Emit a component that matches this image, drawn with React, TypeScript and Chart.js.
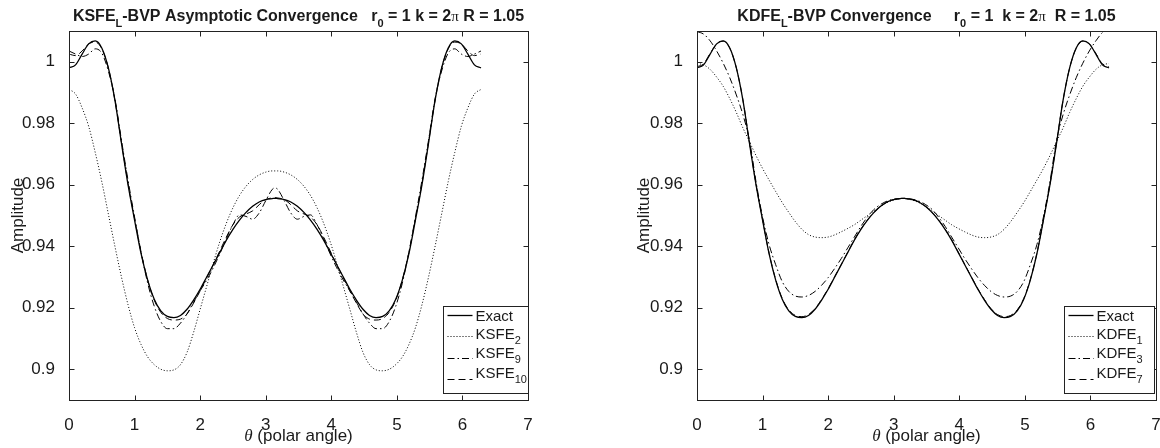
import React, { useEffect, useRef } from "react";
import { Chart, registerables } from "chart.js";
Chart.register(...registerables);

// ---------------- DATA ----------------
const THETA = [
  0, 0.1, 0.2, 0.3, 0.4, 0.5, 0.6, 0.7, 0.8, 0.9, 1.0, 1.1, 1.2, 1.3, 1.4, 1.5,
  1.6, 1.7, 1.8, 1.9, 2.0, 2.1, 2.2, 2.3, 2.4, 2.5, 2.6, 2.7, 2.8, 2.9, 3.0, 3.1,
  3.1416,
  3.1832, 3.2832, 3.3832, 3.4832, 3.5832, 3.6832, 3.7832, 3.8832, 3.9832, 4.0832,
  4.1832, 4.2832, 4.3832, 4.4832, 4.5832, 4.6832, 4.7832, 4.8832, 4.9832, 5.0832,
  5.1832, 5.2832, 5.3832, 5.4832, 5.5832, 5.6832, 5.7832, 5.8832, 5.9832, 6.0832,
  6.1832, 6.2832,
];

const X_TICKS = [0, 1, 2, 3, 4, 5, 6, 7];
const Y_TICKS = [0.9, 0.92, 0.94, 0.96, 0.98, 1];
const X_MIN = 0;
const X_MAX = 7;
const Y_MIN = 0.89;
const Y_MAX = 1.01;

const EXACT = [
  0.998, 0.999, 1.0025, 1.0058, 1.0068, 1.0045, 0.998, 0.9875, 0.9735, 0.96, 0.9485, 0.9375, 0.929, 0.9228, 0.919, 0.9172,
  0.9168, 0.9175, 0.9195, 0.9225, 0.926, 0.93, 0.934, 0.938, 0.942, 0.9455, 0.9485, 0.951, 0.953, 0.9544, 0.9552, 0.9555,
  0.9556,
  0.9555, 0.9552, 0.9544, 0.953, 0.951, 0.9485, 0.9455, 0.942, 0.938, 0.934, 0.93, 0.926, 0.9225, 0.9195, 0.9175, 0.9168,
  0.9172, 0.919, 0.9228, 0.929, 0.9375, 0.9485, 0.96, 0.9735, 0.9875, 0.998, 1.0045, 1.0068, 1.0058, 1.0025, 0.999, 0.998,
];

const KSFE_2 = [
  0.991, 0.9895, 0.985, 0.979, 0.9705, 0.961, 0.9505, 0.94, 0.93, 0.921, 0.9135, 0.908, 0.904, 0.9015, 0.9, 0.8995,
  0.8998, 0.9015, 0.9055, 0.912, 0.9195, 0.927, 0.9345, 0.9415, 0.9475, 0.9525, 0.9565, 0.9595, 0.9617, 0.9632, 0.9641, 0.9645,
  0.9645,
  0.9645, 0.9641, 0.9632, 0.9617, 0.9595, 0.9565, 0.9525, 0.9475, 0.9415, 0.9345, 0.927, 0.9195, 0.912, 0.9055, 0.9015, 0.8998,
  0.8995, 0.9, 0.9015, 0.904, 0.908, 0.9135, 0.921, 0.93, 0.94, 0.9505, 0.961, 0.9705, 0.979, 0.985, 0.9895, 0.991,
];

const KSFE_9 = [
  1.0035, 1.0025, 1.0017, 1.0025, 1.0042, 1.0028, 0.997, 0.988, 0.9745, 0.9615, 0.9495, 0.938, 0.928, 0.9205, 0.9155, 0.9132,
  0.9132, 0.915, 0.918, 0.9218, 0.9255, 0.929, 0.933, 0.9375, 0.9425, 0.947, 0.9502, 0.9497, 0.9488, 0.9508, 0.9548, 0.9585,
  0.959,
  0.9585, 0.9548, 0.9508, 0.9488, 0.9497, 0.9502, 0.947, 0.9425, 0.9375, 0.933, 0.929, 0.9255, 0.9218, 0.918, 0.915, 0.9132,
  0.9132, 0.9155, 0.9205, 0.928, 0.938, 0.9495, 0.9615, 0.9745, 0.988, 0.997, 1.0028, 1.0042, 1.0025, 1.0017, 1.0025, 1.0035,
];

const KSFE_10 = [
  1.0025, 1.002, 1.0035, 1.0058, 1.0064, 1.0042, 0.998, 0.9875, 0.9738, 0.9605, 0.949, 0.938, 0.929, 0.9225, 0.9185, 0.9165,
  0.916, 0.9163, 0.918, 0.9215, 0.9255, 0.9298, 0.934, 0.9385, 0.943, 0.947, 0.9495, 0.9505, 0.9515, 0.9535, 0.9552, 0.9557,
  0.9558,
  0.9557, 0.9552, 0.9535, 0.9515, 0.9505, 0.9495, 0.947, 0.943, 0.9385, 0.934, 0.9298, 0.9255, 0.9215, 0.918, 0.9163, 0.916,
  0.9165, 0.9185, 0.9225, 0.929, 0.938, 0.949, 0.9605, 0.9738, 0.9875, 0.998, 1.0042, 1.0064, 1.0058, 1.0035, 1.002, 1.0025,
];

const KDFE_1 = [
  0.9994, 0.999, 0.9975, 0.995, 0.992, 0.988, 0.9835, 0.9785, 0.974, 0.9695, 0.9653, 0.9615, 0.9578, 0.9542, 0.951, 0.948,
  0.9455, 0.9438, 0.943, 0.9428, 0.943, 0.9437, 0.9447, 0.9458, 0.947, 0.9485, 0.95, 0.9515, 0.953, 0.9542, 0.955, 0.9555,
  0.9556,
  0.9555, 0.955, 0.9542, 0.953, 0.9515, 0.95, 0.9485, 0.947, 0.9458, 0.9447, 0.9437, 0.943, 0.9428, 0.943, 0.9438, 0.9455,
  0.948, 0.951, 0.9542, 0.9578, 0.9615, 0.9653, 0.9695, 0.974, 0.9785, 0.9835, 0.988, 0.992, 0.995, 0.9975, 0.999, 0.9994,
];

const KDFE_3 = [
  1.0098, 1.009, 1.0068, 1.0035, 0.9995, 0.9948, 0.9892, 0.9828, 0.9745, 0.961, 0.9495, 0.9405, 0.934, 0.9285, 0.9253, 0.9238,
  0.9235, 0.924, 0.9253, 0.9273, 0.9298, 0.9328, 0.936, 0.9395, 0.943, 0.9465, 0.9495, 0.952, 0.9536, 0.9547, 0.9553, 0.9555,
  0.9556,
  0.9555, 0.9553, 0.9547, 0.9536, 0.952, 0.9495, 0.9465, 0.943, 0.9395, 0.936, 0.9328, 0.9298, 0.9273, 0.9253, 0.924, 0.9235,
  0.9238, 0.9253, 0.9285, 0.934, 0.9405, 0.9495, 0.961, 0.9745, 0.9828, 0.9892, 0.9948, 0.9995, 1.0035, 1.0068, 1.0095, 1.0108,
];

const KDFE_7 = [
  0.9984, 0.9993, 1.0027, 1.0058, 1.0067, 1.0044, 0.998, 0.9876, 0.9737, 0.9602, 0.9487, 0.9377, 0.9292, 0.923, 0.9193, 0.9175,
  0.9171, 0.9178, 0.9197, 0.9227, 0.9262, 0.9301, 0.9341, 0.9381, 0.9421, 0.9456, 0.9486, 0.951, 0.953, 0.9544, 0.9552, 0.9555,
  0.9556,
  0.9555, 0.9552, 0.9544, 0.953, 0.951, 0.9486, 0.9456, 0.9421, 0.9381, 0.9341, 0.9301, 0.9262, 0.9227, 0.9197, 0.9178, 0.9171,
  0.9175, 0.9193, 0.923, 0.9292, 0.9377, 0.9487, 0.9602, 0.9737, 0.9876, 0.998, 1.0044, 1.0067, 1.0058, 1.0027, 0.9993, 0.9984,
];

// ---------------- STYLE ----------------
const SANS = "'Liberation Sans', Arial, Helvetica, sans-serif";
const TEXT = "#1a1a1a";
const STYLES: Record<string, { dash: number[]; width: number }> = {
  solid: { dash: [], width: 1.3 },
  dotted: { dash: [1, 2], width: 1 },
  dashdot: { dash: [7, 3, 1.5, 3], width: 1 },
  dashed: { dash: [7, 4], width: 1 },
};

type Seg = { t: string; font: string; dy?: number };
type Series = { name: string; sub: string; data: number[]; style: string };
type Panel = {
  title: Seg[];
  series: Series[];
  yAxisWidth: number;
  padRight: number;
  yTitleX: number;
  legendW: number;
  legendRightOff: number;
};

const B = `bold 16px ${SANS}`;
const BS = `bold 11px ${SANS}`;
const PI = "15px 'Liberation Serif', serif";

const LEFT: Panel = {
  title: [
    { t: "KSFE", font: B },
    { t: "L", font: BS, dy: 6 },
    { t: "-BVP Asymptotic Convergence   r", font: B },
    { t: "0", font: BS, dy: 6 },
    { t: " = 1 k = 2", font: B },
    { t: "\u03c0", font: PI },
    { t: " R = 1.05", font: B },
  ],
  series: [
    { name: "Exact", sub: "", data: EXACT, style: "solid" },
    { name: "KSFE", sub: "2", data: KSFE_2, style: "dotted" },
    { name: "KSFE", sub: "9", data: KSFE_9, style: "dashdot" },
    { name: "KSFE", sub: "10", data: KSFE_10, style: "dashed" },
  ],
  yAxisWidth: 69,
  padRight: 52,
  yTitleX: 18,
  legendW: 85,
  legendRightOff: 0,
};

const RIGHT: Panel = {
  title: [
    { t: "KDFE", font: B },
    { t: "L", font: BS, dy: 6 },
    { t: "-BVP Convergence     r", font: B },
    { t: "0", font: BS, dy: 6 },
    { t: " = 1  k = 2", font: B },
    { t: "\u03c0", font: PI },
    { t: "  R = 1.05", font: B },
  ],
  series: [
    { name: "Exact", sub: "", data: EXACT, style: "solid" },
    { name: "KDFE", sub: "1", data: KDFE_1, style: "dotted" },
    { name: "KDFE", sub: "3", data: KDFE_3, style: "dashdot" },
    { name: "KDFE", sub: "7", data: KDFE_7, style: "dashed" },
  ],
  yAxisWidth: 117,
  padRight: 4,
  yTitleX: 64,
  legendW: 90,
  legendRightOff: 2,
};

function drawSegs(ctx: CanvasRenderingContext2D, segs: Seg[], x: number, baseline: number, center: boolean) {
  let total = 0;
  for (const s of segs) {
    ctx.font = s.font;
    total += ctx.measureText(s.t).width;
  }
  let cx = center ? x - total / 2 : x;
  ctx.textAlign = "left";
  ctx.textBaseline = "alphabetic";
  for (const s of segs) {
    ctx.font = s.font;
    ctx.fillText(s.t, cx, baseline + (s.dy || 0));
    cx += ctx.measureText(s.t).width;
  }
}

function makePlugin(panel: Panel) {
  return {
    id: "matlabDecor",
    afterDraw(chart: any) {
      const ctx: CanvasRenderingContext2D = chart.ctx;
      const a = chart.chartArea;
      const xs = chart.scales.x;
      const ys = chart.scales.y;
      const L = Math.round(a.left) + 0.5;
      const R = Math.round(a.right) + 0.5;
      const T = Math.round(a.top) + 0.5;
      const Bt = Math.round(a.bottom) + 0.5;
      ctx.save();
      // box
      ctx.strokeStyle = "#222";
      ctx.lineWidth = 1;
      ctx.setLineDash([]);
      ctx.strokeRect(L, T, R - L, Bt - T);
      // inward ticks
      const TL = 5;
      ctx.beginPath();
      for (const v of X_TICKS) {
        const px = Math.round(xs.getPixelForValue(v)) + 0.5;
        ctx.moveTo(px, Bt);
        ctx.lineTo(px, Bt - TL);
        ctx.moveTo(px, T);
        ctx.lineTo(px, T + TL);
      }
      for (const v of Y_TICKS) {
        const py = Math.round(ys.getPixelForValue(v)) + 0.5;
        ctx.moveTo(L, py);
        ctx.lineTo(L + TL, py);
        ctx.moveTo(R, py);
        ctx.lineTo(R - TL, py);
      }
      ctx.stroke();

      ctx.fillStyle = TEXT;
      // title
      drawSegs(ctx, panel.title, (a.left + a.right) / 2, 20.5, true);
      // x title
      drawSegs(
        ctx,
        [
          { t: "\u03b8", font: `italic 17px 'Liberation Serif', serif` },
          { t: " (polar angle)", font: `17px ${SANS}` },
        ],
        (a.left + a.right) / 2,
        441,
        true
      );
      // y title
      ctx.save();
      ctx.translate(panel.yTitleX, (a.top + a.bottom) / 2);
      ctx.rotate(-Math.PI / 2);
      ctx.font = `17px ${SANS}`;
      ctx.textAlign = "center";
      ctx.textBaseline = "middle";
      ctx.fillText("Amplitude", 0, 0);
      ctx.restore();

      // legend
      const boxR = Math.round(a.right) - panel.legendRightOff + 0.5;
      const boxL = boxR - panel.legendW;
      const boxT = 306.5;
      const boxB = 393.5;
      ctx.fillStyle = "#fff";
      ctx.fillRect(boxL, boxT, boxR - boxL, boxB - boxT);
      ctx.strokeStyle = "#222";
      ctx.lineWidth = 1;
      ctx.setLineDash([]);
      ctx.strokeRect(boxL, boxT, boxR - boxL, boxB - boxT);
      const shifts = [0, 3, 5, 6];
      panel.series.forEach((s, i) => {
        const ly = boxT + 8.5 + i * 21.3;
        const st = STYLES[s.style];
        ctx.strokeStyle = "#000";
        ctx.lineWidth = st.width;
        ctx.setLineDash(st.dash);
        ctx.beginPath();
        ctx.moveTo(boxL + 4, Math.round(ly) + 0.5);
        ctx.lineTo(boxL + 29, Math.round(ly) + 0.5);
        ctx.stroke();
        ctx.setLineDash([]);
        ctx.fillStyle = TEXT;
        const base = ly - shifts[i] + 5.5;
        const segs: Seg[] = [{ t: s.name, font: `15px ${SANS}` }];
        if (s.sub) segs.push({ t: s.sub, font: `11px ${SANS}`, dy: 5 });
        drawSegs(ctx, segs, boxL + 32, base, false);
      });
      ctx.restore();
    },
  };
}

function buildConfig(panel: Panel): any {
  return {
    type: "line",
    data: {
      datasets: panel.series.map((s) => ({
        label: s.sub ? `${s.name}${s.sub}` : s.name,
        data: THETA.map((t, i) => ({ x: t, y: s.data[i] })),
        borderColor: "#000",
        borderWidth: STYLES[s.style].width,
        borderDash: STYLES[s.style].dash,
        borderCapStyle: "butt",
        pointRadius: 0,
        fill: false,
        cubicInterpolationMode: "monotone",
      })),
    },
    options: {
      responsive: false,
      maintainAspectRatio: false,
      animation: false,
      devicePixelRatio: 1,
      events: [],
      layout: { padding: { left: 0, right: panel.padRight, top: 31, bottom: 0 } },
      plugins: { legend: { display: false }, tooltip: { enabled: false }, title: { display: false } },
      scales: {
        x: {
          type: "linear",
          min: X_MIN,
          max: X_MAX,
          grid: { display: false },
          border: { display: false },
          afterBuildTicks: (sc: any) => {
            sc.ticks = X_TICKS.map((v) => ({ value: v }));
          },
          afterFit: (sc: any) => {
            sc.height = 48;
            sc.paddingLeft = 0;
            sc.paddingRight = 0;
          },
          ticks: {
            padding: 7,
            maxRotation: 0,
            autoSkip: false,
            color: TEXT,
            font: { family: SANS, size: 17 },
            callback: (v: any) => String(v),
          },
        },
        y: {
          type: "linear",
          min: Y_MIN,
          max: Y_MAX,
          grid: { display: false },
          border: { display: false },
          afterBuildTicks: (sc: any) => {
            sc.ticks = Y_TICKS.map((v) => ({ value: v }));
          },
          afterFit: (sc: any) => {
            sc.width = panel.yAxisWidth;
            sc.paddingTop = 0;
            sc.paddingBottom = 0;
          },
          ticks: {
            padding: 6,
            autoSkip: false,
            color: TEXT,
            font: { family: SANS, size: 17 },
            callback: (v: any) => String(Number(Number(v).toFixed(2))),
          },
        },
      },
    },
    plugins: [makePlugin(panel)],
  };
}

function Plot({ panel, left }: { panel: Panel; left: number }) {
  const ref = useRef<HTMLCanvasElement | null>(null);
  useEffect(() => {
    if (!ref.current) return;
    const chart = new Chart(ref.current, buildConfig(panel));
    return () => chart.destroy();
  }, [panel]);
  return (
    <canvas
      ref={ref}
      width={580}
      height={448}
      style={{ position: "absolute", left, top: 0, width: 580, height: 448 }}
    />
  );
}

export default function App() {
  return (
    <div
      style={{
        position: "fixed",
        left: 0,
        top: 0,
        width: 1160,
        height: 448,
        background: "#fff",
        overflow: "hidden",
      }}
    >
      <Plot panel={LEFT} left={0} />
      <Plot panel={RIGHT} left={580} />
    </div>
  );
}
